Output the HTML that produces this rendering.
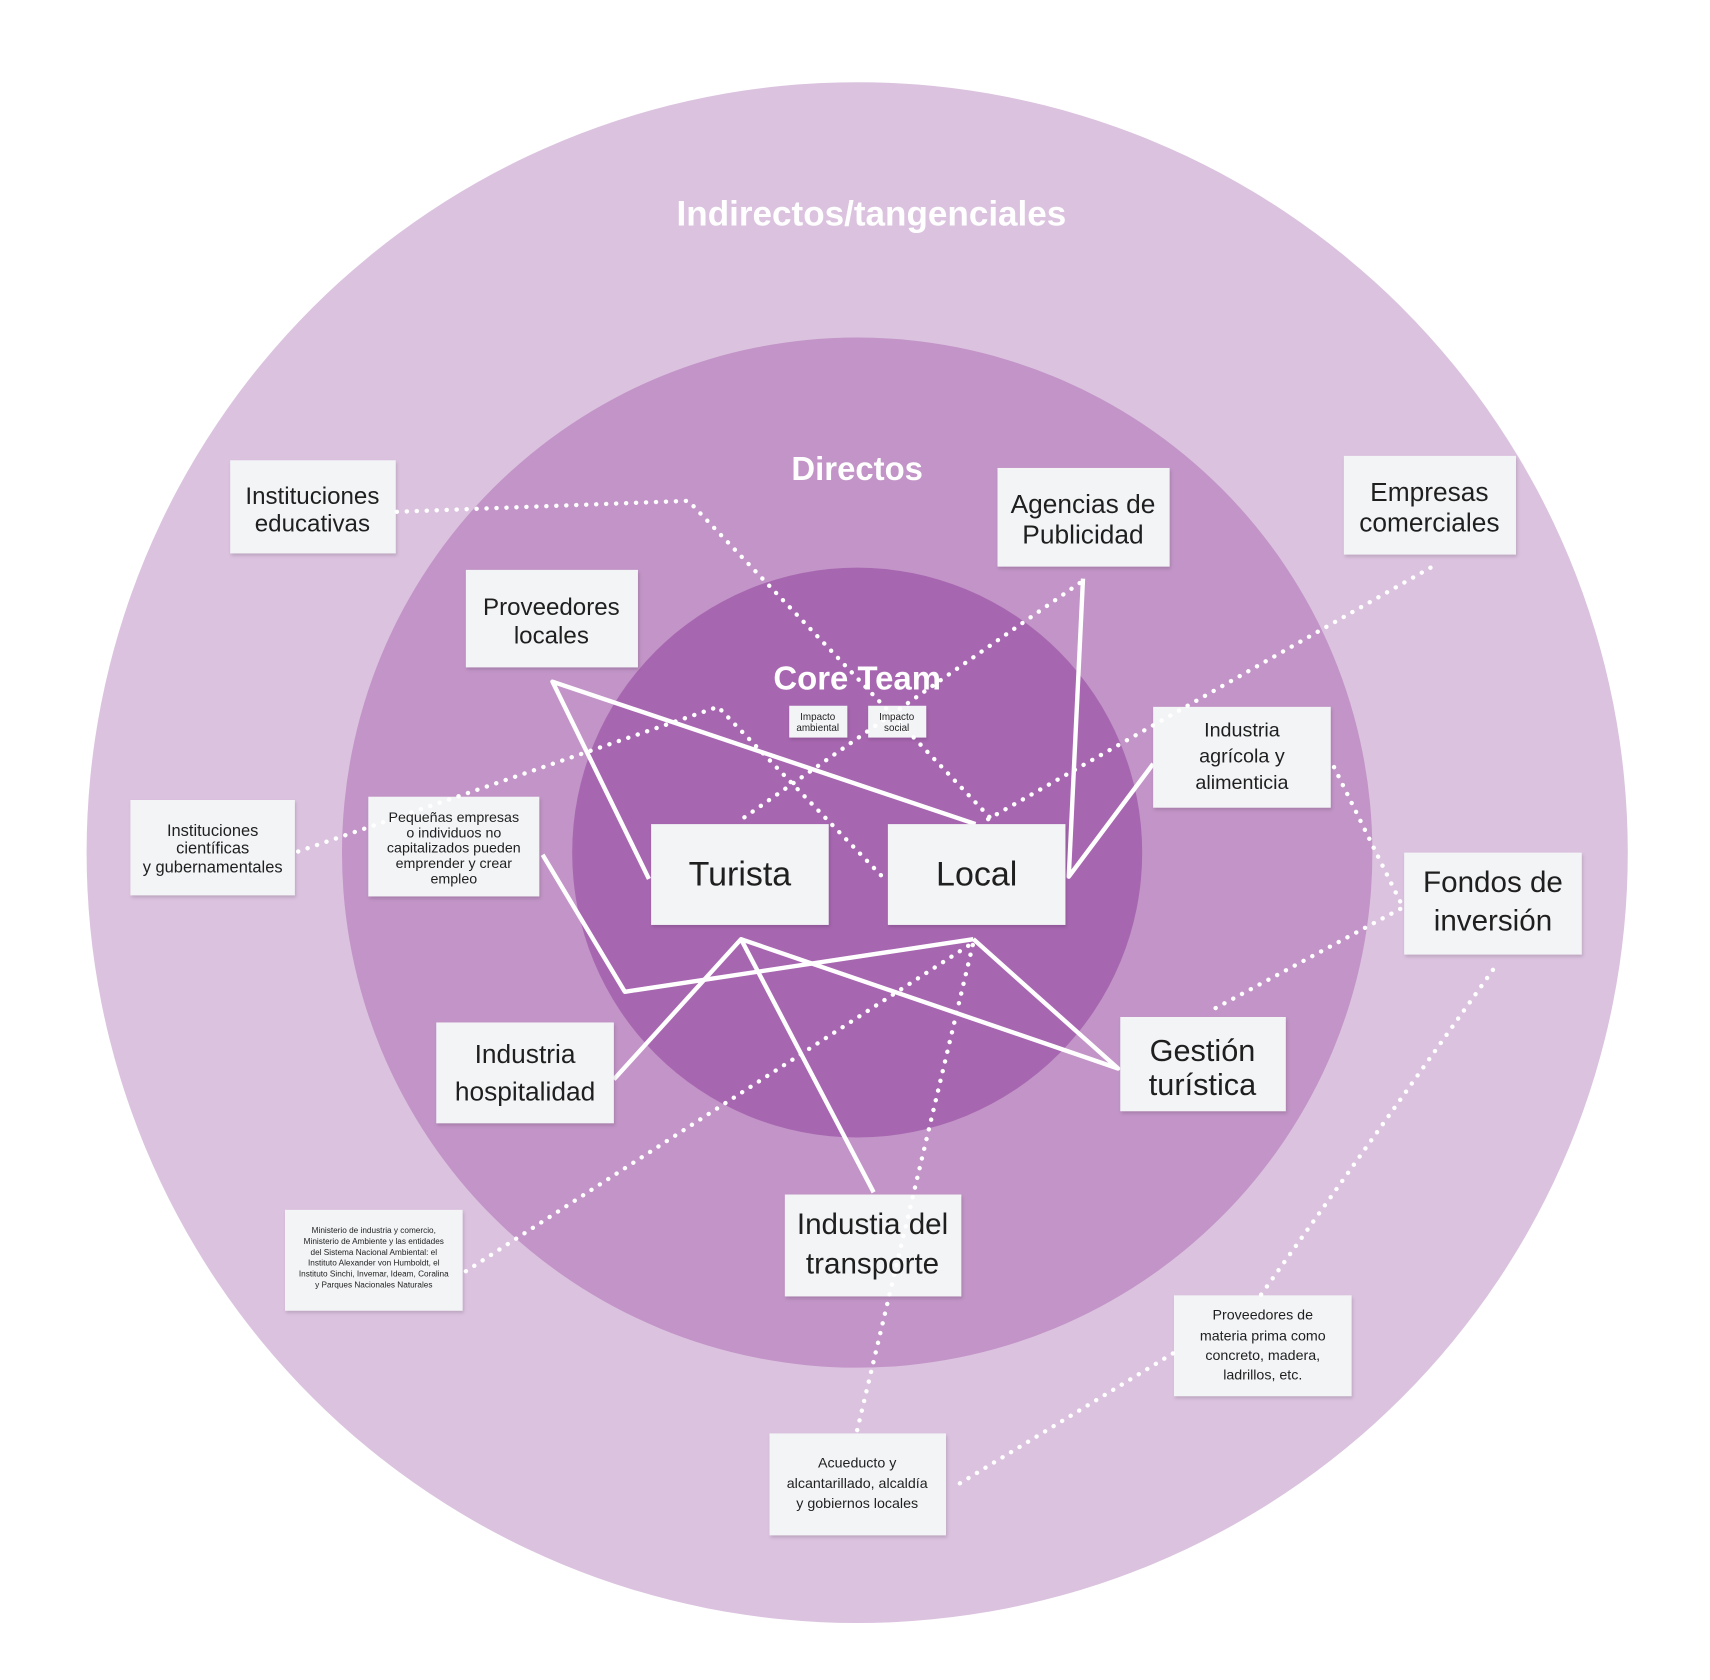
<!DOCTYPE html>
<html><head><meta charset="utf-8"><style>
html,body{margin:0;padding:0;background:#fff;}
svg{display:block;}
text{font-family:"Liberation Sans","DejaVu Sans",sans-serif;fill:#1f1f1f;text-anchor:middle;}
.t{fill:#fff;font-weight:bold;}
</style></head><body>
<svg width="1710" height="1680" viewBox="0 0 1560 1533" preserveAspectRatio="none" xmlns="http://www.w3.org/2000/svg">
<defs><filter id="sh" x="-10%" y="-10%" width="130%" height="130%"><feDropShadow dx="1" dy="2" stdDeviation="1.5" flood-color="#000" flood-opacity="0.15"/></filter></defs>
<circle cx="782" cy="778" r="703" fill="#dbc2df"/>
<circle cx="782" cy="778" r="470" fill="#c294c7"/>
<circle cx="782" cy="778" r="260" fill="#a766b0"/>
<text class="t" x="795" y="206" font-size="32">Indirectos/tangenciales</text>
<text class="t" x="782" y="438" font-size="30">Directos</text>
<text class="t" x="782" y="629" font-size="30">Core Team</text>
<g stroke="#fff" stroke-width="4" fill="none" stroke-linejoin="round">
<polyline points="592,802 504,622 890,752"/>
<polyline points="988,528 975,800 1052,697"/>
<polyline points="495,780 570,905 888,857"/>
<polyline points="560,985 676,857 797,1088"/>
<polyline points="676,857 1020,975 888,857"/>
</g>
<g filter="url(#sh)" fill="#f3f4f6">
<rect x="210" y="420" width="151" height="85"/>
<rect x="425" y="520" width="157" height="89"/>
<rect x="910" y="427" width="157" height="90"/>
<rect x="1226" y="416" width="157" height="90"/>
<rect x="720" y="644" width="53" height="29"/>
<rect x="792" y="644" width="53" height="29"/>
<rect x="1052" y="645" width="162" height="92"/>
<rect x="119" y="730" width="150" height="87"/>
<rect x="336" y="727" width="156" height="91"/>
<rect x="594" y="752" width="162" height="92"/>
<rect x="810" y="752" width="162" height="92"/>
<rect x="1281" y="778" width="162" height="93"/>
<rect x="398" y="933" width="162" height="92"/>
<rect x="1022" y="928" width="151" height="86"/>
<rect x="716" y="1090" width="161" height="93"/>
<rect x="260" y="1104" width="162" height="92"/>
<rect x="1071" y="1182" width="162" height="92"/>
<rect x="702" y="1308" width="161" height="93"/>
</g>
<g stroke="#fff" stroke-width="4" fill="none" stroke-dasharray="0.1 9" stroke-linecap="round">
<polyline points="362,467 628,457 905,748"/>
<polyline points="985,532 676,748"/>
<polyline points="1305,518 897,750"/>
<polyline points="272,777 655,645 805,800"/>
<polyline points="1217,700 1280,828 1105,922"/>
<polyline points="1362,885 1150,1182"/>
<polyline points="1070,1235 870,1357"/>
<polyline points="782,1305 888,860"/>
<polyline points="425,1160 888,860"/>
</g>
<text font-size="22"><tspan x="285" y="460">Instituciones</tspan><tspan x="285" y="485">educativas</tspan></text>
<text font-size="22"><tspan x="503" y="561">Proveedores</tspan><tspan x="503" y="587">locales</tspan></text>
<text font-size="24"><tspan x="988" y="468">Agencias de</tspan><tspan x="988" y="496">Publicidad</tspan></text>
<text font-size="24"><tspan x="1304" y="457">Empresas</tspan><tspan x="1304" y="485">comerciales</tspan></text>
<text font-size="9"><tspan x="746" y="657">Impacto</tspan><tspan x="746" y="667">ambiental</tspan></text>
<text font-size="9"><tspan x="818" y="657">Impacto</tspan><tspan x="818" y="667">social</tspan></text>
<text font-size="18"><tspan x="1133" y="672">Industria</tspan><tspan x="1133" y="696">agrícola y</tspan><tspan x="1133" y="720">alimenticia</tspan></text>
<text font-size="15"><tspan x="194" y="763">Instituciones</tspan><tspan x="194" y="779">científicas</tspan><tspan x="194" y="796">y gubernamentales</tspan></text>
<text font-size="13"><tspan x="414" y="750">Pequeñas empresas</tspan><tspan x="414" y="764">o individuos no</tspan><tspan x="414" y="778">capitalizados pueden</tspan><tspan x="414" y="792">emprender y crear</tspan><tspan x="414" y="806">empleo</tspan></text>
<text font-size="31" x="675" y="808">Turista</text>
<text font-size="31" x="891" y="808">Local</text>
<text font-size="27"><tspan x="1362" y="814">Fondos de</tspan><tspan x="1362" y="849">inversión</tspan></text>
<text font-size="24"><tspan x="479" y="970">Industria</tspan><tspan x="479" y="1004">hospitalidad</tspan></text>
<text font-size="28"><tspan x="1097" y="968">Gestión</tspan><tspan x="1097" y="999">turística</tspan></text>
<text font-size="27"><tspan x="796" y="1126">Industia del</tspan><tspan x="796" y="1162">transporte</tspan></text>
<text font-size="7.5"><tspan x="341" y="1125">Ministerio de industria y comercio,</tspan><tspan x="341" y="1135">Ministerio de Ambiente y las entidades</tspan><tspan x="341" y="1145">del Sistema Nacional Ambiental: el</tspan><tspan x="341" y="1155">Instituto Alexander von Humboldt, el</tspan><tspan x="341" y="1165">Instituto Sinchi, Invemar, Ideam, Coralina</tspan><tspan x="341" y="1175">y Parques Nacionales Naturales</tspan></text>
<text font-size="13"><tspan x="1152" y="1204">Proveedores de</tspan><tspan x="1152" y="1223">materia prima como</tspan><tspan x="1152" y="1241">concreto, madera,</tspan><tspan x="1152" y="1259">ladrillos, etc.</tspan></text>
<text font-size="13"><tspan x="782" y="1339">Acueducto y</tspan><tspan x="782" y="1358">alcantarillado, alcaldía</tspan><tspan x="782" y="1376">y gobiernos locales</tspan></text>
</svg>
</body></html>
